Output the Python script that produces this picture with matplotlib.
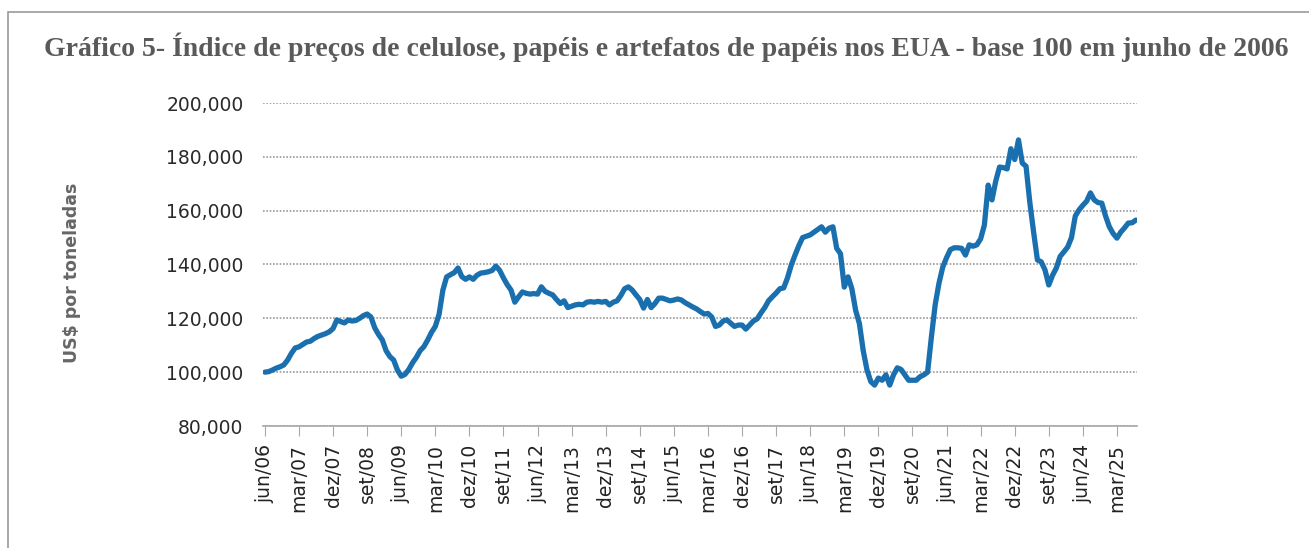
import matplotlib
matplotlib.use('Agg')
import matplotlib.pyplot as plt
from matplotlib.patches import Rectangle
from matplotlib.ticker import FuncFormatter

# Monthly index, jun/06 .. aug/25 (values in thousands)
start_year = 2006
start_month = 6
month_names = ['jan', 'fev', 'mar', 'abr', 'mai', 'jun',
               'jul', 'ago', 'set', 'out', 'nov', 'dez']

values = [
    100.0, 100.2, 100.8, 101.5, 102.0, 102.7, 104.5, 107.0, 109.0, 109.4,
    110.3, 111.2, 111.5, 112.5, 113.3, 113.8, 114.3, 115.0, 116.2, 119.4,
    118.8, 118.3, 119.4, 119.0, 119.2, 120.0, 121.0, 121.6, 120.5, 116.5,
    114.0, 112.0, 108.0, 105.8, 104.5, 100.8, 98.5, 99.2, 101.0, 103.5,
    105.5, 108.0, 109.5, 112.0, 114.8, 117.0, 121.5, 130.5, 135.4, 136.2,
    137.0, 138.7, 135.5, 134.5, 135.4, 134.5, 136.0, 136.8, 137.0, 137.3,
    137.8, 139.4, 137.8, 135.0, 132.5, 130.5, 126.0, 128.0, 129.8, 129.3,
    129.0, 129.2, 129.0, 131.7, 130.0, 129.3, 128.7, 127.0, 125.5, 126.5,
    124.0, 124.5, 125.0, 125.2, 125.0, 126.0, 126.2, 126.0, 126.3, 126.0,
    126.3, 125.0, 126.0, 126.5, 128.5, 131.0, 131.7, 130.5, 128.7, 127.0,
    123.8, 127.0, 124.0, 125.5, 127.5, 127.5, 127.0, 126.5, 126.8, 127.2,
    126.8, 125.8, 125.0, 124.2, 123.5, 122.5, 121.6, 121.8, 120.5, 117.0,
    117.5, 119.0, 119.4, 118.2, 117.0, 117.5, 117.5, 116.0, 117.5, 119.0,
    119.8, 122.0, 124.0, 126.5, 128.0, 129.4, 131.0, 131.3, 135.0, 139.8,
    143.5, 147.0, 150.0, 150.5, 151.0, 152.0, 153.0, 154.0, 152.0, 153.5,
    154.0, 146.0, 144.0, 131.6, 135.4, 131.0, 123.0, 118.0, 108.0, 100.8,
    96.5, 95.2, 97.8, 97.0, 99.0, 95.2, 99.0, 101.6, 101.0, 99.0,
    97.0, 97.0, 97.0, 98.3, 99.0, 100.0, 113.0, 125.0, 133.0, 139.0,
    142.5, 145.5, 146.2, 146.2, 146.0, 143.5, 147.3, 146.8, 147.3, 149.5,
    154.7, 169.5, 164.0, 171.0, 176.2, 176.0, 175.5, 183.0, 179.0, 186.3,
    177.7, 176.5, 163.0, 152.0, 141.7, 141.0, 138.0, 132.4, 136.0, 138.7,
    143.0, 144.7, 146.5, 150.0, 158.0, 160.3, 162.0, 163.5, 166.6, 164.0,
    163.0, 162.8, 158.0, 154.0, 151.5, 149.8, 152.0, 153.6, 155.4, 155.5,
    156.5,
]

y_ticks = [80, 100, 120, 140, 160, 180, 200]
tick_step = 9  # one label every 9 months

months = list(range(len(values)))
tick_pos = months[::tick_step]


def month_label(i):
    m = start_month - 1 + i
    return f"{month_names[m % 12]}/{(start_year + m // 12) % 100:02d}"


tick_labels = [month_label(i) for i in tick_pos]

fig = plt.figure(figsize=(13.09, 5.48), dpi=100)

# thin frame around the chart box (left and top edges visible)
fig.patches.append(Rectangle((8 / 1309, -0.1), 1.2, 1.1 - 12 / 548,
                             transform=fig.transFigure, fill=False,
                             edgecolor='#9a9a9a', linewidth=1.2))

fig.text(0.509, 0.913,
         'Gráfico 5- Índice de preços de celulose, papéis e artefatos de papéis nos EUA - base 100 em junho de 2006',
         ha='center', va='center', fontsize=20, fontweight='bold',
         family='Liberation Serif', color='#5a5a5a')

ax = fig.add_axes([263 / 1309, 1 - 426 / 548, (1137 - 263) / 1309, (426 - 103) / 548])

ax.plot(months, values, color='#1a6fae', linewidth=3.8, solid_joinstyle='round',
        solid_capstyle='round', zorder=3)

ax.set_xlim(-0.5, 230.3)
ax.set_ylim(80, 200)
ax.set_yticks(y_ticks)
ax.yaxis.set_major_formatter(FuncFormatter(lambda v, p: f"{v * 1000:,.0f}"))
ax.set_xticks(tick_pos)
ax.set_xticklabels(tick_labels, rotation=90, fontsize=13.5, color='#222222',
                   family='DejaVu Sans')

ax.grid(axis='y', color='#9a9a9a', linestyle=(0, (1, 1)), linewidth=1.2, zorder=1)
for s in ['top', 'right', 'left']:
    ax.spines[s].set_visible(False)
ax.spines['bottom'].set_color('#a8a8a8')
ax.spines['bottom'].set_linewidth(1.2)

ax.tick_params(axis='y', length=0, pad=14, labelsize=13.5, labelcolor='#2a2a2a')
ax.tick_params(axis='x', length=7, color='#a8a8a8', pad=6)

fig.text(72 / 1309, 1 - 273 / 548, 'US$ por toneladas', rotation=90,
         ha='center', va='center', fontsize=12.5, fontweight='bold',
         color='#666666', family='DejaVu Sans')

fig.savefig('out.png', dpi=100)
